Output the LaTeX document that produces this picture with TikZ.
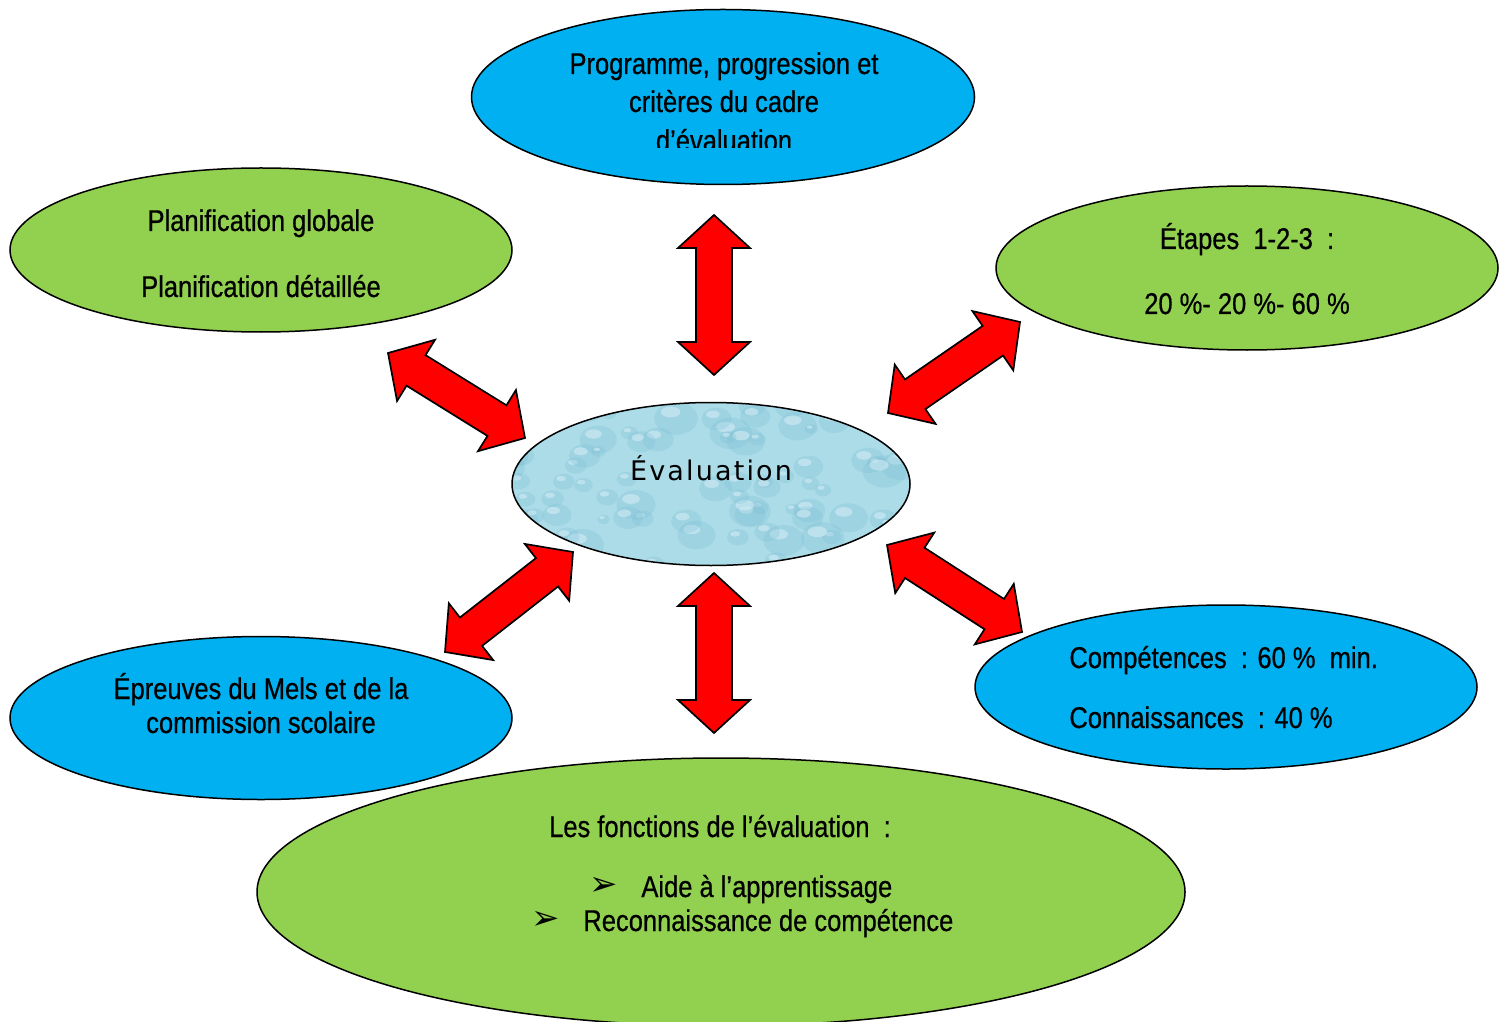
\documentclass[tikz,border=0pt]{standalone}
\usepackage{fontspec}
\setmainfont{Liberation Sans}[FakeStretch=0.85, FakeBold=0.6]
\newfontfamily\evalfont{DejaVu Sans}[LetterSpace=8]
\newfontfamily\dingfont{DejaVu Sans}
\usepackage{tikz}
\usetikzlibrary{shapes.geometric,calc}

\definecolor{skyblue}{HTML}{00B0F0}
\definecolor{leafgreen}{HTML}{92D050}
\definecolor{arrowred}{HTML}{FF0000}
\definecolor{dropbase}{RGB}{172,220,232}
\definecolor{dropdark}{RGB}{120,188,210}
\definecolor{droplight}{RGB}{220,242,248}

% double block arrow between two named points
\newcommand{\blockarrow}[2]{%
  \filldraw[blockarrow]
    (#1) -- ($(#1)!16.5pt!(#2)!18pt!90:(#2)$) -- ($(#1)!16.5pt!(#2)!9pt!90:(#2)$)
    -- ($(#2)!16.5pt!(#1)!9pt!-90:(#1)$) -- ($(#2)!16.5pt!(#1)!18pt!-90:(#1)$)
    -- (#2) -- ($(#2)!16.5pt!(#1)!18pt!90:(#1)$) -- ($(#2)!16.5pt!(#1)!9pt!90:(#1)$)
    -- ($(#1)!16.5pt!(#2)!9pt!-90:(#2)$) -- ($(#1)!16.5pt!(#2)!18pt!-90:(#2)$) -- cycle;}

\begin{document}
\begin{tikzpicture}[x=0.5pt, y=-0.5pt,
  bubble/.style={ellipse, draw=black, line width=0.75pt, inner sep=0pt},
  txt/.style={font=\fontsize{15}{19}\selectfont, inner sep=0pt, text height=11pt, text depth=0pt},
  bullet/.style={font=\dingfont\fontsize{17}{19}\selectfont, inner sep=0pt},
  blockarrow/.style={fill=arrowred, draw=black, line width=0.85pt, line join=miter}]
  \useasboundingbox (0,0) rectangle (1507,1021);
  \clip (0,0) rectangle (1507,1021);

  % Outer bubbles
  \node[bubble, fill=skyblue, minimum width=251.5pt, minimum height=87.5pt] (prog) at (723,97) {};
  \node[bubble, fill=leafgreen, minimum width=251pt, minimum height=82pt] (plan) at (261,250) {};
  \node[bubble, fill=leafgreen, minimum width=251pt, minimum height=82pt] (etap) at (1247,268) {};
  \node[bubble, fill=skyblue, minimum width=251pt, minimum height=81.5pt] (epr) at (261,718) {};
  \node[bubble, fill=skyblue, minimum width=251pt, minimum height=82pt] (comp) at (1226,687) {};
  \node[bubble, fill=leafgreen, minimum width=464pt, minimum height=134pt] (fonc) at (721,892) {};

  % Central bubble with water drops
  \node[bubble, draw=none, fill=dropbase, minimum width=199pt, minimum height=81.5pt] (eval) at (711,484) {};
  \begin{scope}
    \clip (711,484) ellipse (199 and 81.5);
    \pgfmathsetseed{11}
    \foreach \i in {1,...,80}{
      \pgfmathsetmacro\dx{500+420*rnd}
      \pgfmathsetmacro\dy{400+170*rnd}
      \pgfmathsetmacro\rr{6+16*rnd}
      \fill[dropdark, opacity=0.25] (\dx,\dy) ellipse ({\rr} and {0.75*\rr});
      \fill[droplight, opacity=0.5] (\dx-0.25*\rr,\dy-0.3*\rr) ellipse ({0.45*\rr} and {0.25*\rr});
    }
  \end{scope}
  \draw[line width=0.75pt] (eval.center) ellipse (199 and 81.5);
  \node[font=\evalfont\fontsize{13.5}{15}\selectfont, inner sep=0pt] (evaltxt) at (711,468) {Évaluation};

  % Texts
  \begin{scope}
    \clip (472,30) rectangle (975,148);
    \node[txt] (prog1) at (724,63) {Programme, progression et};
    \node[txt] (prog2) at (724,101) {critères du cadre};
    \node[txt] (prog3) at (724,140) {d’évaluation};
  \end{scope}
  \node[txt] (plan1) at (261,220) {Planification globale};
  \node[txt] (plan2) at (261,286) {Planification détaillée};
  \node[txt] (etap1) at (1247,238) {Étapes~~1-2-3~~:};
  \node[txt] (etap2) at (1247,303) {20 \%- 20 \%- 60 \%};
  \node[txt] (epr1) at (261,688) {Épreuves du Mels et de la};
  \node[txt] (epr2) at (261,722) {commission scolaire};
  \node[txt, anchor=west] (comp1) at (1069,657) {Compétences~~: 60 \%~~min.};
  \node[txt, anchor=west] (comp2) at (1069,717) {Connaissances~~: 40 \%};
  \node[txt] (fonc1) at (720,826) {Les fonctions de l’évaluation~~:};
  \node[bullet] (bul1) at (604,886) {➢};
  \node[txt, anchor=west] (fonc2) at (641,886) {Aide à l’apprentissage};
  \node[bullet] (bul2) at (546,920) {➢};
  \node[txt, anchor=west] (fonc3) at (583,920) {Reconnaissance de compétence};

  % Arrow ends
  \coordinate (top-a) at (714,215);  \coordinate (top-b) at (714,375);
  \coordinate (bot-a) at (714,573);  \coordinate (bot-b) at (714,733);
  \coordinate (ul-a) at (388,353);   \coordinate (ul-b) at (525,438);
  \coordinate (ur-a) at (888,413);   \coordinate (ur-b) at (1020,322);
  \coordinate (ll-a) at (445,652);   \coordinate (ll-b) at (573,552);
  \coordinate (lr-a) at (887,545);   \coordinate (lr-b) at (1022,632);

  % Double arrows
  \blockarrow{top-a}{top-b}
  \blockarrow{bot-a}{bot-b}
  \blockarrow{ul-a}{ul-b}
  \blockarrow{ur-a}{ur-b}
  \blockarrow{ll-a}{ll-b}
  \blockarrow{lr-a}{lr-b}
\end{tikzpicture}
\end{document}
